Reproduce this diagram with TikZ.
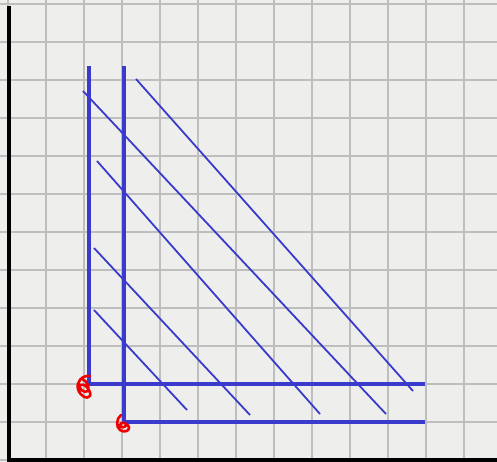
\documentclass[tikz,border=0pt]{standalone}
\definecolor{bg}{HTML}{EEEEEC}
\definecolor{gridc}{HTML}{BEBEBE}
\definecolor{penblue}{HTML}{3A3ACC}
\definecolor{penred}{HTML}{F00000}
\tikzset{
  thickpen/.style={penblue, line width=3.8pt},
  thinpen/.style={penblue, line width=1.8pt},
  axis/.style={black, line width=3.5pt},
  scribble/.style={penred, line width=2.6pt, line cap=round, line join=round},
}
\begin{document}
\begin{tikzpicture}[x=1pt,y=-1pt]
\useasboundingbox (0,0) rectangle (497,462);
\fill[bg] (0,0) rectangle (497,462);
% grid
\foreach \i in {0,...,12} {
  \draw[gridc, line width=1.5pt] ({8+38*\i},0) -- ({8+38*\i},462);
}
\foreach \j in {0,...,12} {
  \draw[gridc, line width=1.5pt] (0,{4+38*\j}) -- (497,{4+38*\j});
}
% axes
\draw[axis] (9,6) -- (9,460) -- (497,460);
% thick L shapes
\draw[thickpen] (89,66) -- (89,384) -- (425,384);
\draw[thickpen] (124,66) -- (124,422) -- (425,422);
% diagonals
\draw[thinpen] (136,79) -- (413,391);
\draw[thinpen] (83,91) -- (386,414);
\draw[thinpen] (97,161) -- (320,414);
\draw[thinpen] (94,248) -- (250,415);
\draw[thinpen] (94,310) -- (187,410);
% red scribbles
\draw[scribble] (90,376) .. controls (82,375) and (76,382) .. (78,389)
  .. controls (80,396) and (87,400) .. (90,396)
  .. controls (92,391) and (84,382) .. (80,385)
  .. controls (78,388) and (84,394) .. (88,391)
  .. controls (90,388) and (86,379) .. (83,380);
\draw[scribble] (121,415) .. controls (116,419) and (116,427) .. (120,430)
  .. controls (124,433) and (130,431) .. (129,427)
  .. controls (128,423) and (120,421) .. (120,425)
  .. controls (120,428) and (126,428) .. (126,425);
\end{tikzpicture}
\end{document}
